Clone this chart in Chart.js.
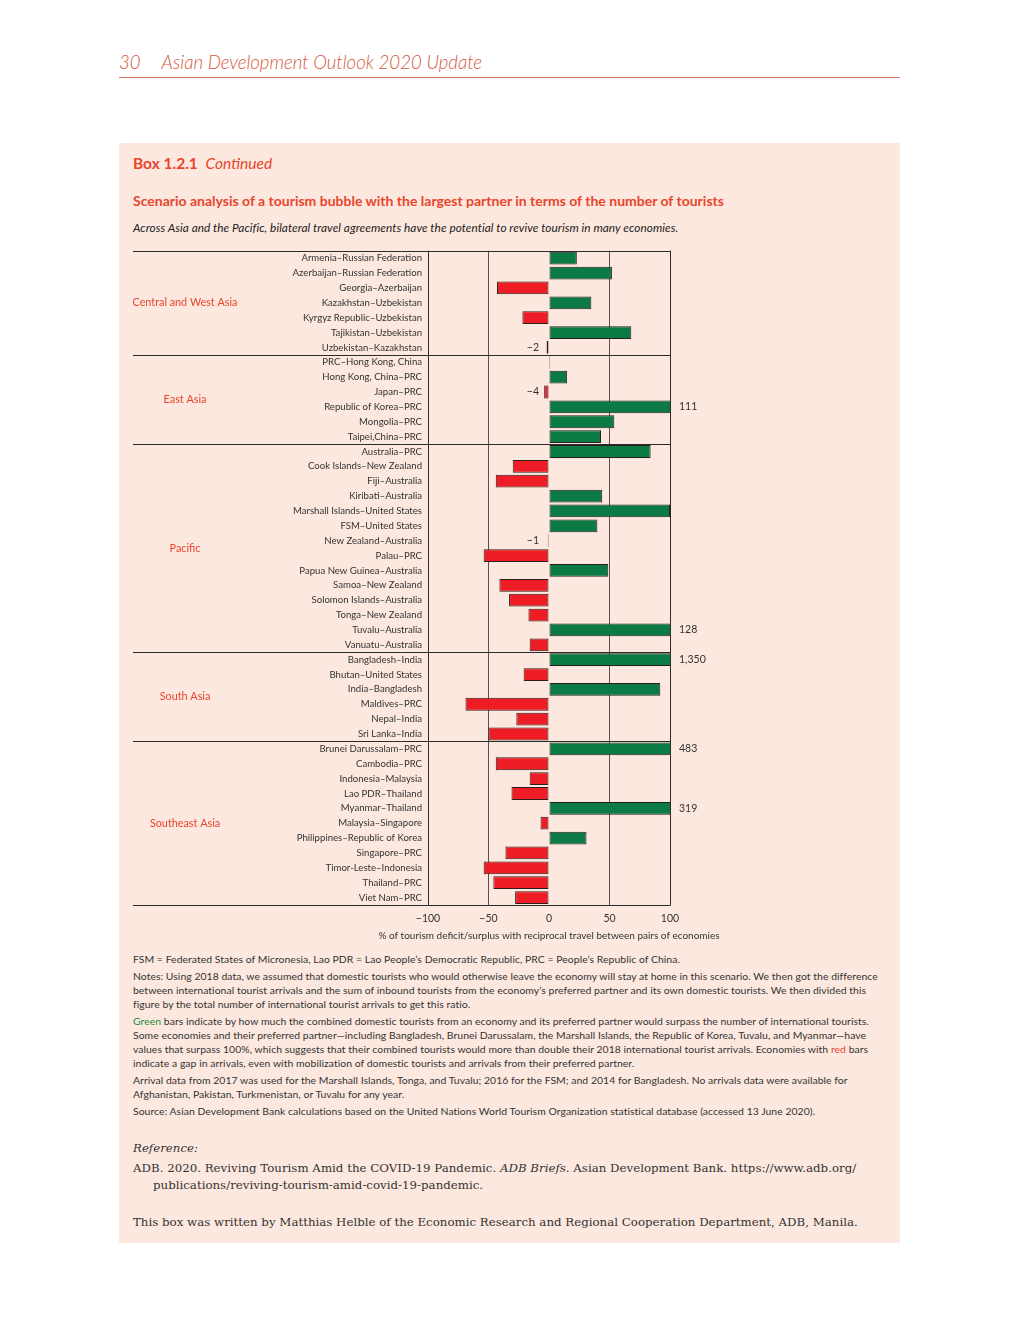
<!DOCTYPE html>
<html>
<head>
<meta charset="utf-8">
<script src="https://cdn.jsdelivr.net/npm/chart.js@4"></script>
<style>
  body { margin: 0; background: #fff; font-family: Lato, "Open Sans", sans-serif; }
  #page { position: relative; width: 1020px; height: 1320px; }
  .abs { position: absolute; white-space: nowrap; }
  #head { left: 119px; top: 51px; font-size: 18.6px; font-style: italic; font-weight: 300; color: #d4573d; }
  #head .num { margin-right: 21px; }
  #rule { left: 119px; top: 77px; width: 781px; height: 1px; background: #e07b63; }
  #box { left: 119px; top: 143px; width: 781px; height: 1100px; background: #fde8df; }
  #boxno { left: 133px; top: 154px; font-size: 15.5px; font-weight: bold; color: #e8452c; }
  #boxno i { font-weight: normal; margin-left: 4px; }
  #title { left: 133px; top: 192px; font-size: 14px; font-weight: bold; color: #e8452c; }
  #sub { left: 133px; top: 220px; font-size: 11.8px; font-style: italic; color: #222; letter-spacing: 0.05px; }
  #wrap { left: 119px; top: 239px; width: 660px; height: 705px; }
  .note { left: 133px; font-size: 10.4px; color: #333; line-height: 14px; letter-spacing: 0.05px; }
  .ref { left: 133px; font-family: "DejaVu Serif", "Liberation Serif", serif; font-size: 11.8px; color: #333; line-height: 17px; }
</style>
</head>
<body>
<div id="page">
  <div class="abs" id="head"><span class="num">30</span>Asian Development Outlook 2020 Update</div>
  <div class="abs" id="rule"></div>
  <div class="abs" id="box"></div>
  <div class="abs" id="boxno">Box 1.2.1 <i>Continued</i></div>
  <div class="abs" id="title">Scenario analysis of a tourism bubble with the largest partner in terms of the number of tourists</div>
  <div class="abs" id="sub">Across Asia and the Pacific, bilateral travel agreements have the potential to revive tourism in many economies.</div>
  <div class="abs" id="wrap"><canvas id="myChart_bar" width="660" height="705"></canvas></div>

  <div class="abs note" style="top:952px">FSM = Federated States of Micronesia, Lao PDR = Lao People’s Democratic Republic, PRC = People’s Republic of China.</div>
  <div class="abs note" style="top:969px">Notes: Using 2018 data, we assumed that domestic tourists who would otherwise leave the economy will stay at home in this scenario. We then got the difference<br>between international tourist arrivals and the sum of inbound tourists from the economy’s preferred partner and its own domestic tourists. We then divided this<br>figure by the total number of international tourist arrivals to get this ratio.</div>
  <div class="abs note" style="top:1014px"><span style="color:#1a8a3c">Green</span> bars indicate by how much the combined domestic tourists from an economy and its preferred partner would surpass the number of international tourists.<br>Some economies and their preferred partner—including Bangladesh, Brunei Darussalam, the Marshall Islands, the Republic of Korea, Tuvalu, and Myanmar—have<br>values that surpass 100%, which suggests that their combined tourists would more than double their 2018 international tourist arrivals. Economies with <span style="color:#e8452c">red</span> bars<br>indicate a gap in arrivals, even with mobilization of domestic tourists and arrivals from their preferred partner.</div>
  <div class="abs note" style="top:1073px">Arrival data from 2017 was used for the Marshall Islands, Tonga, and Tuvalu; 2016 for the FSM; and 2014 for Bangladesh. No arrivals data were available for<br>Afghanistan, Pakistan, Turkmenistan, or Tuvalu for any year.</div>
  <div class="abs note" style="top:1104px">Source: Asian Development Bank calculations based on the United Nations World Tourism Organization statistical database (accessed 13 June 2020).</div>

  <div class="abs ref" style="top:1140px; font-style:italic">Reference:</div>
  <div class="abs ref" style="top:1160px">ADB. 2020. Reviving Tourism Amid the COVID-19 Pandemic. <i>ADB Briefs</i>. Asian Development Bank. https://www.adb.org/</div>
  <div class="abs ref" style="top:1177px; left:153px">publications/reviving-tourism-amid-covid-19-pandemic.</div>
  <div class="abs ref" style="top:1214px">This box was written by Matthias Helble of the Economic Research and Regional Cooperation Department, ADB, Manila.</div>
</div>

<script>
var groupNames = ["Central and West Asia", "East Asia", "Pacific", "South Asia", "Southeast Asia"];
var groupSizes = [7, 6, 14, 6, 11];

var pairs = [
    "Armenia–Russian Federation", "Azerbaijan–Russian Federation", "Georgia–Azerbaijan",
    "Kazakhstan–Uzbekistan", "Kyrgyz Republic–Uzbekistan", "Tajikistan–Uzbekistan",
    "Uzbekistan–Kazakhstan",
    "PRC–Hong Kong, China", "Hong Kong, China–PRC", "Japan–PRC", "Republic of Korea–PRC",
    "Mongolia–PRC", "Taipei,China–PRC",
    "Australia–PRC", "Cook Islands–New Zealand", "Fiji–Australia", "Kiribati–Australia",
    "Marshall Islands–United States", "FSM–United States", "New Zealand–Australia",
    "Palau–PRC", "Papua New Guinea–Australia", "Samoa–New Zealand",
    "Solomon Islands–Australia", "Tonga–New Zealand", "Tuvalu–Australia", "Vanuatu–Australia",
    "Bangladesh–India", "Bhutan–United States", "India–Bangladesh", "Maldives–PRC",
    "Nepal–India", "Sri Lanka–India",
    "Brunei Darussalam–PRC", "Cambodia–PRC", "Indonesia–Malaysia", "Lao PDR–Thailand",
    "Myanmar–Thailand", "Malaysia–Singapore", "Philippines–Republic of Korea",
    "Singapore–PRC", "Timor-Leste–Indonesia", "Thailand–PRC", "Viet Nam–PRC"
];

var values = [
    23, 52, -43, 35, -22, 68, -2,
    1, 15, -4, 111, 54, 43,
    84, -30, -44, 44, 100, 40, -1, -54, 49, -41, -33, -17, 128, -16,
    1350, -21, 92, -69, -27, -50,
    483, -44, -16, -31, 319, -7, 31, -36, -54, -46, -28
];

var xTicks = [-100, -50, 0, 50, 100];
var xTitle = "% of tourism deficit/surplus with reciprocal travel between pairs of economies";

var barColors = values.map(function (v) { return v >= 0 ? "#0b7a45" : "#ee1d25"; });

function fmt(v) {
    var s = Math.abs(v).toLocaleString("en-US");
    return v < 0 ? "\u2212" + s : s;
}

var frameLeft = 14; // where group separators start (canvas px)

var groupPlugin = {
    id: "groups",
    afterDraw: function (chart) {
        var ctx = chart.ctx;
        var area = chart.chartArea;
        var y = chart.scales.y;
        var x = chart.scales.x;
        var step = (area.bottom - area.top) / pairs.length;
        ctx.save();
        ctx.strokeStyle = "#2b2b2b";
        ctx.lineWidth = 1;
        // frame lines and separators
        var start = 0;
        var lines = [area.top];
        groupSizes.forEach(function (n) { start += n; lines.push(area.top + start * step); });
        lines.forEach(function (yy) {
            var py = Math.round(yy) + 0.5;
            ctx.beginPath();
            ctx.moveTo(frameLeft, py);
            ctx.lineTo(area.right + 0.5, py);
            ctx.stroke();
        });
        // left and right borders of the plot
        [area.left, area.right].forEach(function (xx) {
            var px = Math.round(xx) + 0.5;
            ctx.beginPath();
            ctx.moveTo(px, area.top);
            ctx.lineTo(px, area.bottom);
            ctx.stroke();
        });
        // group names
        ctx.fillStyle = "#e8452c";
        ctx.font = "10.8px Lato, sans-serif";
        ctx.textAlign = "center";
        ctx.textBaseline = "middle";
        start = 0;
        groupSizes.forEach(function (n, i) {
            var mid = area.top + (start + n / 2) * step;
            ctx.fillText(groupNames[i], 66, mid);
            start += n;
        });
        // value labels for bars off the scale or too small to see
        ctx.fillStyle = "#333";
        ctx.font = "10.5px Lato, sans-serif";
        var zero = x.getPixelForValue(0);
        values.forEach(function (v, i) {
            var py = y.getPixelForValue(i);
            if (v > 100) {
                ctx.textAlign = "left";
                ctx.fillText(fmt(v), area.right + 9, py);
            } else if (v < 0 && v > -5) {
                ctx.textAlign = "right";
                ctx.fillText(fmt(v), zero - 10, py);
            }
        });
        // axis title
        ctx.font = "10px Lato, sans-serif";
        ctx.textAlign = "center";
        ctx.fillText(xTitle, zero, area.bottom + 31);
        ctx.restore();
    }
};

new Chart("myChart_bar", {
    type: "bar",
    data: {
        labels: pairs,
        datasets: [
            {
                backgroundColor: barColors,
                borderColor: "#2a1f1f",
                borderWidth: 1,
                borderSkipped: false,
                data: values,
                barPercentage: 0.86,
                categoryPercentage: 1,
                clip: { left: 0, right: 0, top: 10, bottom: 10 },
            },
        ],
    },
    options: {
        indexAxis: "y",
        responsive: false,
        animation: false,
        layout: { padding: { left: 0, right: 109, top: 0, bottom: 0 } },
        plugins: {
            legend: { display: false },
            tooltip: { enabled: false },
        },
        scales: {
            x: {
                min: -100,
                max: 100,
                afterBuildTicks: function (s) { s.ticks = xTicks.map(function (v) { return { value: v }; }); },
                afterFit: function (s) { s.height = 39; },
                border: { display: false },
                grid: {
                    drawTicks: false,
                    color: function (c) { return c.tick && c.tick.value === 0 ? "rgba(0,0,0,0)" : "#5a5050"; },
                },
                ticks: {
                    padding: 7,
                    color: "#333",
                    font: { family: "Lato", size: 10.5 },
                    callback: function (v) { return fmt(v); },
                },
            },
            y: {
                afterFit: function (s) { s.width = 309; },
                border: { display: false },
                grid: { display: false, drawTicks: false },
                ticks: {
                    padding: 6,
                    autoSkip: false,
                    color: "#333",
                    font: { family: "Lato", size: 9.6 },
                },
            },
        },
    },
    plugins: [groupPlugin],
});
</script>
</body>
</html>
